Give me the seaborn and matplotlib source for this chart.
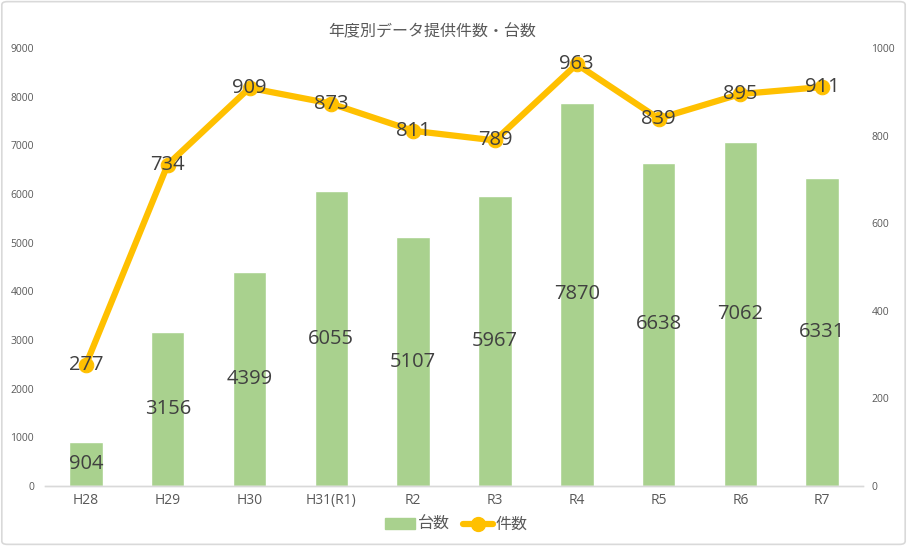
import matplotlib
matplotlib.use("Agg")
import matplotlib.pyplot as plt
import seaborn as sns
import pandas as pd
from matplotlib.patches import FancyBboxPatch
from matplotlib.lines import Line2D
from matplotlib.patches import Patch

categories = ["H28", "H29", "H30", "H31(R1)", "R2", "R3", "R4", "R5", "R6", "R7"]
units = [904, 3156, 4399, 6055, 5107, 5967, 7870, 6638, 7062, 6331]      # 台数 (left axis)
cases = [277, 734, 909, 873, 811, 789, 963, 839, 895, 911]               # 件数 (right axis)
left_ticks = [0, 1000, 2000, 3000, 4000, 5000, 6000, 7000, 8000, 9000]
right_ticks = [0, 200, 400, 600, 800, 1000]
title = "年度別データ提供件数・台数"

sns.set_theme(style="white")
plt.rcParams['font.family'] = ['Open Sans', 'Noto Sans CJK JP', 'DejaVu Sans']

BAR = "#A9D18E"
LINE = "#FFC000"
TXT = "#595959"
LBL = "#404040"

df = pd.DataFrame({"year": categories, "units": units, "cases": cases})

fig = plt.figure(figsize=(9.07, 5.46), dpi=100)
fig.patch.set_facecolor("white")
border = FancyBboxPatch((0.002, 0.003), 0.996, 0.994, boxstyle="round,pad=0,rounding_size=0.006",
                        transform=fig.transFigure, fill=False, edgecolor="#D9D9D9", linewidth=1.2)
fig.patches.append(border)

ax = fig.add_axes([0.0496, 0.110, 0.902, 0.802])
sns.barplot(data=df, x="year", y="units", color=BAR, width=0.41, ax=ax, saturation=1)
ax.set_ylim(0, 9000)
ax.set_yticks(left_ticks)
ax.set_xlim(-0.5, len(categories) - 0.5)
ax.set_xlabel("")
ax.set_ylabel("")

ax2 = ax.twinx()
x = list(range(len(categories)))
sns.lineplot(x=x, y=cases, ax=ax2, color=LINE, linewidth=4.5, marker="o", markersize=10.5,
             markeredgecolor=LINE, markerfacecolor=LINE, legend=False)
ax2.set_ylim(0, 1000)
ax2.set_yticks(right_ticks)
ax2.set_xlim(-0.5, len(categories) - 0.5)

for a in (ax, ax2):
    for s in ["top", "left", "right"]:
        a.spines[s].set_visible(False)
    a.spines["bottom"].set_color("#D9D9D9")
    a.spines["bottom"].set_linewidth(1.0)
    a.grid(False)

ax.tick_params(axis="y", labelsize=7.5, colors=TXT, length=0, pad=8)
ax.set_xticks([i - 0.5 for i in range(len(categories) + 1)], minor=True)
ax.tick_params(axis="x", which="minor", length=4, width=1, color="#D9D9D9", direction="out")
ax.tick_params(axis="x", which="major", length=0, labelsize=10, labelcolor=TXT, pad=5)
ax2.tick_params(axis="y", labelsize=7.5, colors=TXT, length=0, pad=6)

# bar labels (centered)
for i, v in enumerate(units):
    ax.text(i, v / 2, str(v), ha="center", va="center", fontsize=14.5, color=LBL)
# line labels
for i, v in enumerate(cases):
    ax2.text(i, v, str(v), ha="center", va="center", fontsize=14.5, color=LBL)

fig.text(0.476, 0.941, title, ha="center", va="center", fontsize=11.5, color=TXT)

handles = [Patch(facecolor=BAR, edgecolor=BAR),
           Line2D([0], [0], color=LINE, linewidth=4.5, marker="o", markersize=10)]
fig.legend(handles, ["台数", "件数"], loc="center", bbox_to_anchor=(0.503, 0.038), ncol=2,
           frameon=False, fontsize=11.5, labelcolor=TXT, handlelength=1.9, columnspacing=0.8,
           handletextpad=0.15)

fig.savefig("out.png", dpi=100)
